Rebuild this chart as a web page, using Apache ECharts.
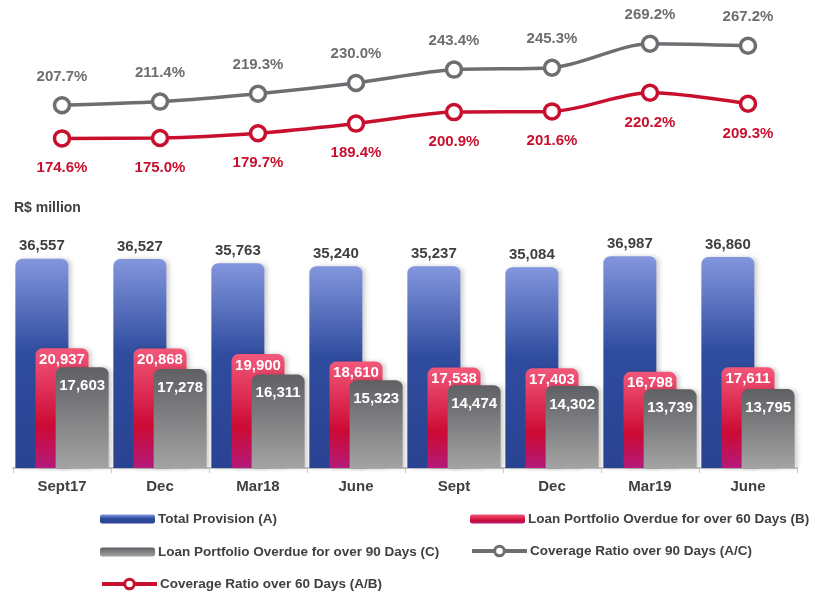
<!DOCTYPE html>
<html>
<head>
<meta charset="utf-8">
<script src="https://cdn.jsdelivr.net/npm/echarts@6/dist/echarts.min.js"></script>
<style>
  html, body { margin: 0; padding: 0; background: #fff; }
  #chart { width: 818px; height: 594px; }
</style>
</head>
<body>
<div id="chart"></div>
<script>
// periods and values
const categories = ['Sept17', 'Dec', 'Mar18', 'June', 'Sept', 'Dec', 'Mar19', 'June'];
const totalProvision = [36557, 36527, 35763, 35240, 35237, 35084, 36987, 36860];
const overdue60 = [20937, 20868, 19900, 18610, 17538, 17403, 16798, 17611];
const overdue90 = [17603, 17278, 16311, 15323, 14474, 14302, 13739, 13795];
const coverage90 = [207.7, 211.4, 219.3, 230.0, 243.4, 245.3, 269.2, 267.2];
const coverage60 = [174.6, 175.0, 179.7, 189.4, 200.9, 201.6, 220.2, 209.3];

const names = [
    'Total Provision (A)',
    'Loan Portfolio Overdue for over 60 Days (B)',
    'Loan Portfolio Overdue for over 90 Days (C)',
    'Coverage Ratio over 90 Days (A/C)',
    'Coverage Ratio over 60 Days (A/B)'
];

const chart = echarts.init(document.getElementById('chart'));
const font = 'Liberation Sans, Arial, sans-serif';
const grad = (stops) => new echarts.graphic.LinearGradient(0, 0, 0, 1,
    stops.map((c) => ({ offset: c[0], color: c[1] })));

const blueFill = grad([[0, '#8396de'], [0.45, '#2f4c9e'], [1, '#2a4292']]);
const redFill = grad([[0, '#f2587a'], [0.65, '#cc0a34'], [1, '#b41a7a']]);
const grayFill = grad([[0, '#5f6064'], [1, '#a3a3a3']]);

const fmt = (p) => p.value.toLocaleString('en-US');
const pct = (p) => p.value.toFixed(1) + '%';

const legendText = { fontFamily: font, fontSize: 13.5, fontWeight: 'bold', color: '#404040', padding: [0, 0, 0, -2] };
const barLegend = (left, top, name) => ({
    left: left, top: top, data: [name],
    itemWidth: 55, itemHeight: 9, textStyle: legendText
});
const lineLegend = (left, top, name) => ({
    left: left, top: top, data: [name],
    itemWidth: 55, itemHeight: 12, textStyle: legendText,
    lineStyle: { width: 4 },
    itemStyle: { borderWidth: 3 }
});

const option = {
    animation: false,
    textStyle: { fontFamily: font },
    title: {
        text: 'R$ million',
        left: 9, top: 196,
        textStyle: { fontFamily: font, fontSize: 14, fontWeight: 'bold', color: '#404040' }
    },
    legend: [
        barLegend(95, 507, names[0]),
        barLegend(465, 507, names[1]),
        barLegend(95, 540, names[2]),
        lineLegend(465, 539, names[3]),
        lineLegend(95, 572, names[4])
    ],
    grid: [
        { left: 13, right: 21, top: 13, height: 150 },
        { left: 13, right: 21, top: 239, height: 229 }
    ],
    xAxis: [
        { gridIndex: 0, type: 'category', data: categories, show: false },
        {
            gridIndex: 1, type: 'category', data: categories,
            axisLine: { lineStyle: { color: '#c8c8c8', width: 2 } },
            axisTick: { show: true, length: 5, lineStyle: { color: '#c8c8c8' } },
            axisLabel: { fontFamily: font, fontSize: 15, fontWeight: 'bold', color: '#404040', margin: 11 }
        }
    ],
    yAxis: [
        { gridIndex: 0, type: 'value', min: 150, max: 300, show: false },
        { gridIndex: 1, type: 'value', min: 0, max: 40000, show: false }
    ],
    series: [
        {
            name: names[0], type: 'bar', xAxisIndex: 1, yAxisIndex: 1,
            data: totalProvision, barWidth: 53, barGap: '-62%',
            itemStyle: { color: blueFill, borderRadius: [7, 7, 0, 0], shadowColor: 'rgba(0,0,0,0.18)', shadowBlur: 4, shadowOffsetX: 3 },
            label: { show: true, position: 'top', distance: 5, formatter: fmt, fontSize: 15, fontWeight: 'bold', color: '#404040', fontFamily: font }
        },
        {
            name: names[1], type: 'bar', xAxisIndex: 1, yAxisIndex: 1,
            data: overdue60, barWidth: 53, barGap: '-62%',
            itemStyle: { color: redFill, borderRadius: [7, 7, 0, 0], shadowColor: 'rgba(0,0,0,0.18)', shadowBlur: 4, shadowOffsetX: 3 },
            label: { show: true, position: 'insideTop', distance: 4, formatter: fmt, fontSize: 15, fontWeight: 'bold', color: '#fff', fontFamily: font }
        },
        {
            name: names[2], type: 'bar', xAxisIndex: 1, yAxisIndex: 1,
            data: overdue90, barWidth: 53, barGap: '-62%',
            itemStyle: { color: grayFill, borderRadius: [7, 7, 0, 0], shadowColor: 'rgba(0,0,0,0.18)', shadowBlur: 4, shadowOffsetX: 3 },
            label: { show: true, position: 'insideTop', distance: 11, formatter: fmt, fontSize: 15, fontWeight: 'bold', color: '#fff', fontFamily: font }
        },
        {
            name: names[3], type: 'line', xAxisIndex: 0, yAxisIndex: 0,
            data: coverage90, smooth: 0.3,
            symbol: 'circle', symbolSize: 15,
            lineStyle: { color: '#6d6e71', width: 3.5 },
            itemStyle: { color: '#fff', borderColor: '#6d6e71', borderWidth: 3.5 },
            label: { show: true, position: 'top', distance: 12, formatter: pct, fontSize: 15, fontWeight: 'bold', color: '#6d6e71', fontFamily: font }
        },
        {
            name: names[4], type: 'line', xAxisIndex: 0, yAxisIndex: 0,
            data: coverage60, smooth: 0.3,
            symbol: 'circle', symbolSize: 15,
            lineStyle: { color: '#c8102e', width: 3.5 },
            itemStyle: { color: '#fff', borderColor: '#c8102e', borderWidth: 3.5 },
            label: { show: true, position: 'bottom', distance: 13, formatter: pct, fontSize: 15, fontWeight: 'bold', color: '#c8102e', fontFamily: font }
        }
    ]
};

chart.setOption(option);
</script>
</body>
</html>
